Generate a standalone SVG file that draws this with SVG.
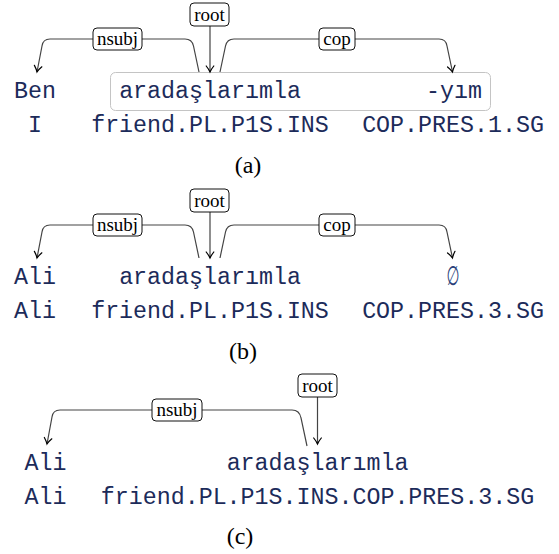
<svg xmlns="http://www.w3.org/2000/svg" width="559" height="554" viewBox="0 0 559 554">
<defs>
<marker id="ah" viewBox="-7 -5 9 10" markerWidth="9" markerHeight="10" refX="0" refY="0" orient="auto" markerUnits="userSpaceOnUse">
<path d="M -6 -3.8 Q -2.5 -1 0 0 Q -2.5 1 -6 3.8" fill="none" stroke="#000" stroke-width="1.2" stroke-linecap="round"/>
</marker>
</defs>
<style>
.w{font-family:"Liberation Mono","DejaVu Sans Mono",monospace;font-size:23.3px;fill:#1c2b5a;text-anchor:middle}
.arc{fill:none;stroke:#444;stroke-width:1.2;marker-end:url(#ah)}
.lb rect{fill:#fff;stroke:#111;stroke-width:1}
.lb text{font-family:"Liberation Serif","Times New Roman",serif;font-size:19px;fill:#000;text-anchor:middle}
.cap{font-family:"Liberation Serif","Times New Roman",serif;font-size:24px;fill:#000;text-anchor:middle}
.grp{fill:none;stroke:#c4c4c4;stroke-width:1}
.empty{font-family:"DejaVu Sans",sans-serif;font-size:24px;fill:#2a3f7a;text-anchor:middle}
</style>
<rect width="559" height="554" fill="#fff"/>

<rect class="grp" x="110.5" y="72.5" width="380" height="38" rx="5"/>
<g id="connectors">
<path class="arc" d="M 210 26 L 210 72"/>
<path class="arc" d="M 199 72 L 193.5 46 Q 192 39 185 39 L 50 39 Q 43 39 42 46 L 37 72"/>
<path class="arc" d="M 220 72 L 225.5 46 Q 227 39 234 39 L 439 39 Q 446 39 447 46 L 452.5 72"/>
<path class="arc" d="M 210 212 L 210 258"/>
<path class="arc" d="M 199 258 L 193.5 232 Q 192 225 185 225 L 50 225 Q 43 225 42 232 L 37 258"/>
<path class="arc" d="M 220 258 L 225.5 232 Q 227 225 234 225 L 439 225 Q 446 225 447 232 L 452.5 258"/>
<path class="arc" d="M 317.5 397 L 317.5 444"/>
<path class="arc" d="M 307 446 L 301 418 Q 299.5 410 292 410 L 60 410 Q 53 410 52 417 L 47 444"/>
</g>
<g id="labels">
<g id="a-root" class="lb"><rect x="190" y="3" width="39" height="23" rx="4"/><text x="209.5" y="21">root</text></g>
<g id="a-nsubj" class="lb"><rect x="93" y="28" width="49" height="22" rx="4"/><text x="117.5" y="44.5">nsubj</text></g>
<g id="a-cop" class="lb"><rect x="319" y="28" width="36" height="22" rx="4"/><text x="337" y="44.5">cop</text></g>
<g id="b-root" class="lb"><rect x="190" y="189" width="39" height="23" rx="4"/><text x="209.5" y="207">root</text></g>
<g id="b-nsubj" class="lb"><rect x="93" y="214" width="49" height="22" rx="4"/><text x="117.5" y="230.5">nsubj</text></g>
<g id="b-cop" class="lb"><rect x="319" y="214" width="36" height="22" rx="4"/><text x="337" y="230.5">cop</text></g>
<g id="c-root" class="lb"><rect x="298" y="374" width="39" height="23" rx="4"/><text x="317.5" y="392">root</text></g>
<g id="c-nsubj" class="lb"><rect x="152" y="399" width="50" height="22" rx="4"/><text x="177" y="415.5">nsubj</text></g>
</g>

<g id="a-w1"><text class="w" x="35" y="98">Ben</text><text class="w" x="35" y="131.5">I</text></g>
<g id="a-w2"><text class="w" x="210" y="98">aradaşlarımla</text><text class="w" x="210" y="131.5">friend.PL.P1S.INS</text></g>
<g id="a-w3"><text class="w" x="454" y="98">-yım</text><text class="w" x="453" y="131.5">COP.PRES.1.SG</text></g>
<text class="cap" x="248" y="173">(a)</text>

<g id="b-w1"><text class="w" x="35" y="284">Ali</text><text class="w" x="35" y="317.5">Ali</text></g>
<g id="b-w2"><text class="w" x="210" y="284">aradaşlarımla</text><text class="w" x="210" y="317.5">friend.PL.P1S.INS</text></g>
<g id="b-w3"><text class="empty" transform="translate(453 285) scale(0.62 1.12)" x="0" y="0">∅</text><text class="w" x="453" y="317.5">COP.PRES.3.SG</text></g>
<text class="cap" x="243" y="359">(b)</text>

<g id="c-w1"><text class="w" x="45.5" y="470">Ali</text><text class="w" x="45.5" y="503.5">Ali</text></g>
<g id="c-w2"><text class="w" x="317.5" y="470">aradaşlarımla</text><text class="w" x="317.5" y="503.5">friend.PL.P1S.INS.COP.PRES.3.SG</text></g>
<text class="cap" x="240" y="544">(c)</text>
</svg>
